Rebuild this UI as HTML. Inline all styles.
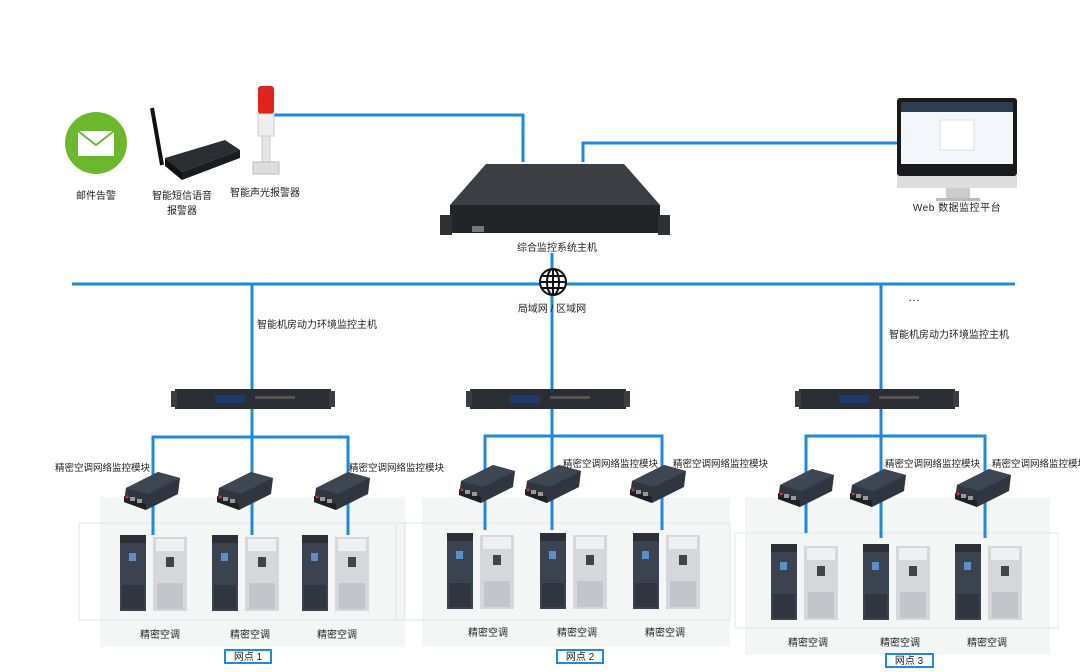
<!DOCTYPE html>
<html><head><meta charset="utf-8"><style>
html,body{margin:0;padding:0;background:#fff;}
svg{display:block;font-family:"Liberation Sans","Noto Sans CJK SC",sans-serif;}
</style></head><body>
<svg width="1080" height="672" viewBox="0 0 1080 672" xmlns="http://www.w3.org/2000/svg">
<defs>
<g id="mod">
  <polygon points="-26,-2 6,-18 28,-12 26,4 -6,20 -28,12" fill="#2f3640"/>
  <polygon points="-28,6 -6,14 -6,20 -28,12" fill="#1c2128"/>
  <polygon points="-26,-2 6,-18 28,-12 -4,4" fill="#3d4653"/>
  <rect x="-22" y="7" width="5" height="4" fill="#999"/>
  <rect x="-15" y="9" width="5" height="4" fill="#999"/>
  <circle cx="-25" cy="7" r="1.5" fill="#c33"/>
</g>
<g id="ac">
  <rect x="0" y="0" width="26" height="76" fill="#3c4350"/>
  <rect x="0" y="0" width="26" height="8" fill="#2a2f38"/>
  <rect x="9" y="18" width="7" height="8" fill="#5a8fc9"/>
  <rect x="2" y="50" width="22" height="24" fill="#30363f"/>
  <rect x="33" y="2" width="34" height="74" fill="#d5d7da"/>
  <rect x="36" y="4" width="28" height="12" fill="#eef0f2"/>
  <rect x="46" y="22" width="8" height="10" fill="#444"/>
  <rect x="37" y="48" width="26" height="26" fill="#c2c5c9"/>
</g>
<g id="rack">
  <rect x="0" y="0" width="156" height="20" fill="#2a2d32"/>
  <rect x="-4" y="2" width="6" height="16" fill="#3a3d42"/>
  <rect x="154" y="2" width="6" height="16" fill="#3a3d42"/>
  <rect x="40" y="6" width="30" height="8" fill="#1c3d6b"/>
  <rect x="80" y="7" width="40" height="3" fill="#555"/>
</g>
</defs>

<!-- site panels -->
<rect x="100" y="497" width="305" height="150" fill="#f4f6f6"/>
<rect x="422" y="497" width="308" height="150" fill="#f4f6f6"/>
<rect x="745" y="497" width="305" height="158" fill="#f4f6f6"/>
<rect x="79" y="523" width="326" height="97" fill="none" stroke="#e2e4e4"/>
<rect x="396" y="523" width="334" height="97" fill="none" stroke="#e2e4e4"/>
<rect x="735" y="533" width="323" height="95" fill="none" stroke="#e2e4e4"/>

<g stroke="#1e88e5" stroke-width="3" fill="none">
  <polyline points="266,115 523,115 523,162"/>
  <polyline points="583,162 583,143 897,143"/>
  <line x1="72" y1="284" x2="1015" y2="284"/>
  <line x1="552" y1="253" x2="552" y2="395"/>
  <line x1="252" y1="284" x2="252" y2="392"/>
  <line x1="881" y1="284" x2="881" y2="392"/>
  <line x1="252" y1="408" x2="252" y2="535"/>
  <polyline points="153,535 153,437 348,437 348,535"/>
  <line x1="552" y1="408" x2="552" y2="530"/>
  <polyline points="485,530 485,436 662,436 662,530"/>
  <line x1="881" y1="408" x2="881" y2="538"/>
  <polyline points="806,533 806,436 985,436 985,538"/>
</g>

<!-- globe -->
<g stroke="#111" stroke-width="2" fill="none">
  <circle cx="553" cy="282" r="13" fill="#fff"/>
  <ellipse cx="553" cy="282" rx="6" ry="13"/>
  <line x1="540" y1="282" x2="566" y2="282"/>
  <line x1="553" y1="269" x2="553" y2="295"/>
  <line x1="542" y1="276" x2="564" y2="276"/>
  <line x1="542" y1="288" x2="564" y2="288"/>
</g>

<!-- email icon -->
<circle cx="96" cy="143" r="31" fill="#6bb82c"/>
<rect x="78" y="131" width="36" height="25" fill="#fff"/>
<polyline points="78,131 96,145 114,131" stroke="#6bb82c" stroke-width="2" fill="none"/>
<!-- sms device -->
<line x1="152" y1="108" x2="162" y2="165" stroke="#111" stroke-width="4"/>
<polygon points="165,158 225,140 240,150 182,172" fill="#2a2d33"/>
<polygon points="165,158 182,172 182,180 165,166" fill="#111"/>
<polygon points="182,172 240,150 240,158 182,180" fill="#1a1c20"/>
<!-- light tower -->
<rect x="258" y="86" width="16" height="28" rx="3" fill="#e0241c"/>
<rect x="258" y="114" width="16" height="22" fill="#eee" stroke="#ccc"/>
<rect x="262" y="136" width="8" height="26" fill="#e5e5e5" stroke="#ccc"/>
<rect x="253" y="162" width="26" height="12" fill="#ddd" stroke="#bbb"/>
<!-- main server -->
<polygon points="486,164 624,164 660,205 450,205" fill="#3b3e43"/>
<rect x="450" y="205" width="210" height="28" fill="#222428"/>
<rect x="440" y="215" width="12" height="20" fill="#2e3035"/>
<rect x="658" y="215" width="12" height="20" fill="#2e3035"/>
<rect x="472" y="226" width="12" height="6" fill="#777"/>
<!-- monitor -->
<rect x="897" y="98" width="120" height="78" rx="3" fill="#1a1a1a"/>
<rect x="901" y="102" width="112" height="62" fill="#f3f6fa"/>
<rect x="901" y="102" width="112" height="10" fill="#2c3e50"/>
<rect x="940" y="120" width="34" height="30" fill="#fff" stroke="#ddd"/>
<rect x="897" y="176" width="120" height="12" fill="#ddd"/>
<rect x="946" y="188" width="24" height="10" fill="#ccc"/>
<rect x="936" y="198" width="44" height="3" fill="#bbb"/>

<!-- racks -->
<use href="#rack" x="175" y="389"/>
<use href="#rack" x="470" y="389"/>
<use href="#rack" x="799" y="389"/>

<!-- modules -->
<use href="#mod" x="152" y="490"/>
<use href="#mod" x="245" y="490"/>
<use href="#mod" x="342" y="490"/>
<use href="#mod" x="487" y="483"/>
<use href="#mod" x="553" y="483"/>
<use href="#mod" x="658" y="483"/>
<use href="#mod" x="806" y="487"/>
<use href="#mod" x="878" y="487"/>
<use href="#mod" x="983" y="487"/>

<!-- AC units -->
<use href="#ac" x="120" y="535"/>
<use href="#ac" x="212" y="535"/>
<use href="#ac" x="302" y="535"/>
<use href="#ac" x="447" y="533"/>
<use href="#ac" x="540" y="533"/>
<use href="#ac" x="633" y="533"/>
<use href="#ac" x="771" y="544"/>
<use href="#ac" x="863" y="544"/>
<use href="#ac" x="955" y="544"/>

<g font-size="10" fill="#222">
<text x="96" y="199" text-anchor="middle">邮件告警</text>
<text x="182" y="199" text-anchor="middle">智能短信语音</text>
<text x="182" y="214" text-anchor="middle">报警器</text>
<text x="265" y="196" text-anchor="middle">智能声光报警器</text>
<text x="557" y="251" text-anchor="middle">综合监控系统主机</text>
<text x="552" y="312" text-anchor="middle">局域网 / 区域网</text>
<text x="957" y="211" text-anchor="middle" letter-spacing="0.5">Web 数据监控平台</text>
<text x="908" y="301" font-size="12" letter-spacing="2">…</text>
<text x="257" y="328">智能机房动力环境监控主机</text>
<text x="889" y="338">智能机房动力环境监控主机</text>
<g font-size="9.5">
<text x="55" y="471">精密空调网络监控模块</text>
<text x="349" y="471">精密空调网络监控模块</text>
<text x="563" y="467">精密空调网络监控模块</text>
<text x="673" y="467">精密空调网络监控模块</text>
<text x="885" y="467">精密空调网络监控模块</text>
<text x="992" y="467">精密空调网络监控模块</text>
</g>
<text x="160" y="638" text-anchor="middle">精密空调</text>
<text x="250" y="638" text-anchor="middle">精密空调</text>
<text x="337" y="638" text-anchor="middle">精密空调</text>
<text x="488" y="636" text-anchor="middle">精密空调</text>
<text x="577" y="636" text-anchor="middle">精密空调</text>
<text x="665" y="636" text-anchor="middle">精密空调</text>
<text x="808" y="646" text-anchor="middle">精密空调</text>
<text x="900" y="646" text-anchor="middle">精密空调</text>
<text x="987" y="646" text-anchor="middle">精密空调</text>
</g>
<g stroke="#1e88e5" stroke-width="2" fill="#fff">
<rect x="225" y="650" width="46" height="13"/>
<rect x="557" y="650" width="46" height="13"/>
<rect x="886" y="654" width="47" height="13"/>
</g>
<g font-size="10" fill="#222" text-anchor="middle">
<text x="248" y="660">网点 1</text>
<text x="580" y="660">网点 2</text>
<text x="909" y="664">网点 3</text>
</g>
</svg>
</body></html>
